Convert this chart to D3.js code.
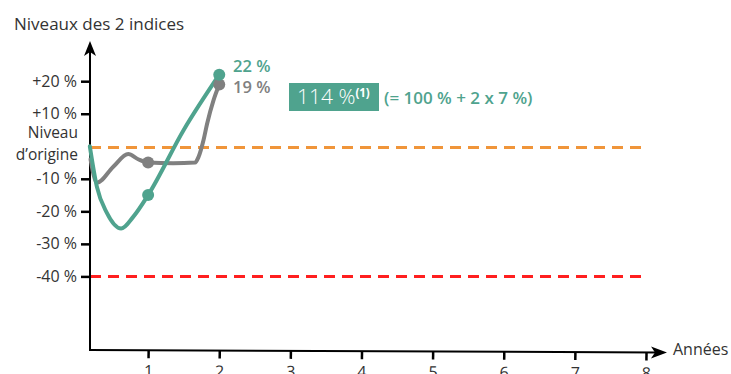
<!DOCTYPE html>
<html>
<head>
<meta charset="utf-8">
<script src="https://cdn.jsdelivr.net/npm/d3@7"></script>
<style>
  html, body { margin: 0; padding: 0; background: #fff; }
  svg { display: block; font-family: "Open Sans", Roboto, sans-serif; }
</style>
</head>
<body>
<svg id="chart" width="731" height="374"></svg>
<script>
// Years on the horizontal axis
const years = [1, 2, 3, 4, 5, 6, 7, 8];
// Vertical tick values (% change from the starting level)
const yTicks = [20, 10, -10, -20, -30, -40];
// Reference levels drawn as dashed lines
const originLevel = 0;
const floorLevel = -40;
// Index paths: [year, % change]
const tealSeries = [[0.18, 0], [0.28, -12.5], [0.42, -20.5], [0.62, -25.3], [0.79, -21.7],
                    [1, -15], [1.5, 5], [2, 22]];
const greySeries = [[0.19, -4], [0.28, -11.2], [0.51, -6.3], [0.72, -2.4], [0.86, -4],
                    [1, -5], [1.35, -5.2], [1.66, -5], [1.71, -3.2], [1.78, 2],
                    [1.83, 7], [1.92, 14.2], [2, 19]];
// End values shown next to the markers
const tealEnd = 22;
const greyEnd = 19;
const tealMarkers = [[1, -15], [2, tealEnd]];
const greyMarkers = [[1, -5], [2, greyEnd]];

const TEAL = "#4fa38e", GREY = "#808080", TEXT = "#333";

const svg = d3.select("#chart");
const x = d3.scaleLinear().domain([0, 8]).range([77, 646]);
const y = d3.scaleLinear().domain([-40, 20]).range([276.4, 81.2]);

const axisX0 = 90, axisYBottom = 350;

// Axis title
svg.append("text").attr("x", 14).attr("y", 30)
  .attr("font-size", 17).attr("fill", TEXT).text("Niveaux des 2 indices");

// Dashed reference lines
svg.append("line").attr("x1", axisX0).attr("x2", 641)
  .attr("y1", y(originLevel) + 1.3).attr("y2", y(originLevel) + 1.3)
  .attr("stroke", "#f0953a").attr("stroke-width", 3).attr("stroke-dasharray", "11,7");
svg.append("line").attr("x1", axisX0).attr("x2", 641)
  .attr("y1", y(floorLevel)).attr("y2", y(floorLevel))
  .attr("stroke", "#ff1f1f").attr("stroke-width", 3).attr("stroke-dasharray", "11,7");

// Y axis
const yAxis = svg.append("g").attr("transform", `translate(${axisX0},0)`)
  .call(d3.axisLeft(y).tickValues(yTicks).tickSize(9).tickPadding(4)
    .tickFormat(d => (d > 0 ? "+" : "") + d + " %"));
yAxis.select(".domain").remove();
yAxis.selectAll(".tick line").attr("stroke", "#000").attr("stroke-width", 2.5);
yAxis.selectAll(".tick text").attr("font-size", 16).attr("fill", TEXT)
  .attr("font-family", "'Open Sans', sans-serif");

svg.append("line").attr("x1", axisX0).attr("x2", axisX0).attr("y1", 50).attr("y2", axisYBottom + 1)
  .attr("stroke", "#000").attr("stroke-width", 2);
svg.append("path").attr("d", `M${axisX0},41 L${axisX0 - 6},56 L${axisX0},52 L${axisX0 + 6},56 Z`)
  .attr("fill", "#000");

// Origin label
svg.append("text").attr("x", 78).attr("y", 138).attr("text-anchor", "end")
  .attr("font-size", 15.5).attr("fill", TEXT).text("Niveau");
svg.append("text").attr("x", 78).attr("y", 160).attr("text-anchor", "end")
  .attr("font-size", 15.5).attr("fill", TEXT).text("d\u2019origine");

// X axis, very slightly slanted
const xg = svg.append("g").attr("transform", `rotate(0.25, ${axisX0}, ${axisYBottom})`);
const xAxis = xg.append("g").attr("transform", `translate(0,${axisYBottom})`)
  .call(d3.axisBottom(x).tickValues(years).tickSize(8).tickPadding(7).tickFormat(d3.format("d")));
xAxis.select(".domain").remove();
xAxis.selectAll(".tick line").attr("stroke", "#000").attr("stroke-width", 2.5);
xAxis.selectAll(".tick text").attr("font-size", 16).attr("fill", TEXT)
  .attr("font-family", "'Open Sans', sans-serif");
xg.append("line").attr("x1", axisX0 - 1).attr("x2", 658).attr("y1", axisYBottom).attr("y2", axisYBottom)
  .attr("stroke", "#000").attr("stroke-width", 2);
xg.append("path").attr("d", `M667,${axisYBottom} L651,${axisYBottom - 6} L655,${axisYBottom} L651,${axisYBottom + 6} Z`)
  .attr("fill", "#000");
svg.append("text").attr("x", 673).attr("y", 355).attr("font-size", 16).attr("fill", TEXT).text("Années");

// Series lines
const line = d3.line().x(d => x(d[0])).y(d => y(d[1])).curve(d3.curveMonotoneX);
svg.append("path").datum(greySeries).attr("d", line)
  .attr("fill", "none").attr("stroke", GREY).attr("stroke-width", 4).attr("stroke-linecap", "round");
svg.append("path").datum(tealSeries).attr("d", line)
  .attr("fill", "none").attr("stroke", TEAL).attr("stroke-width", 4).attr("stroke-linecap", "round");

svg.selectAll(".gm").data(greyMarkers).enter().append("circle")
  .attr("cx", d => x(d[0])).attr("cy", d => y(d[1])).attr("r", 6).attr("fill", GREY);
svg.selectAll(".tm").data(tealMarkers).enter().append("circle")
  .attr("cx", d => x(d[0])).attr("cy", d => y(d[1])).attr("r", 6).attr("fill", TEAL);

// End labels
svg.append("text").attr("x", 233).attr("y", 72).attr("font-size", 16.5).attr("font-weight", 600)
  .attr("fill", TEAL).text(tealEnd + " %");
svg.append("text").attr("x", 233).attr("y", 93).attr("font-size", 16.5).attr("font-weight", 600)
  .attr("fill", GREY).text(greyEnd + " %");

// Highlight box
svg.append("rect").attr("x", 289).attr("y", 83).attr("width", 90).attr("height", 28).attr("fill", TEAL);
const boxText = svg.append("text").attr("x", 297).attr("y", 104).attr("fill", "#fff");
boxText.append("tspan").attr("font-size", 21).attr("font-weight", 300).text("114 %");
boxText.append("tspan").attr("font-size", 11.5).attr("font-weight", 700).attr("dy", -7).text("(1)");
svg.append("text").attr("x", 384).attr("y", 104).attr("font-size", 17).attr("font-weight", 600)
  .attr("fill", TEAL).text("(= 100 % + 2 x 7 %)");
</script>
</body>
</html>
